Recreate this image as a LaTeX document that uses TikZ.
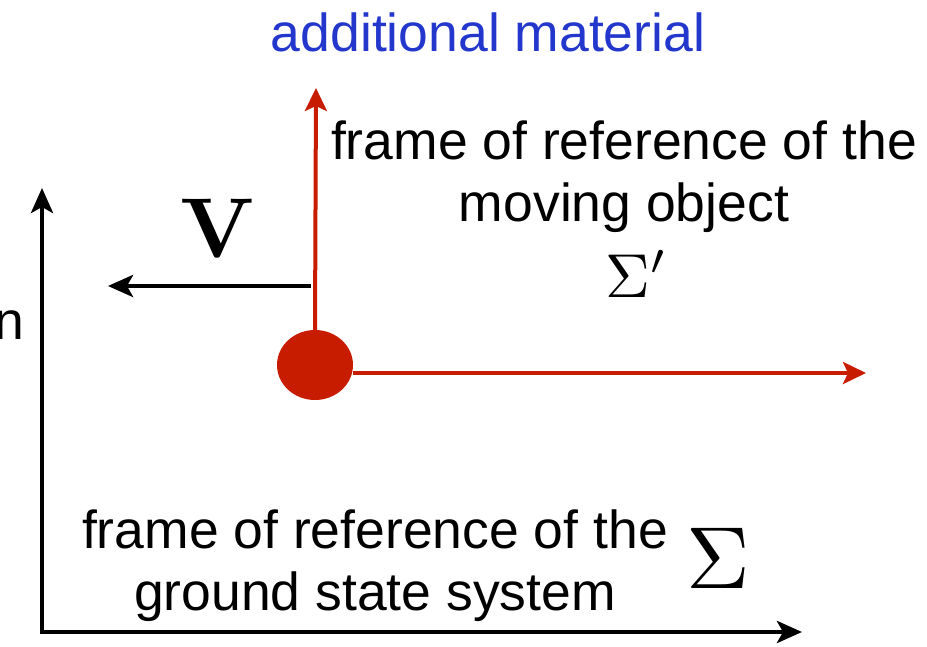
\documentclass[tikz,border=0pt]{standalone}
\usepackage{amsmath}
\usepackage{graphicx}
\usepackage[no-math]{fontspec}
\setmainfont{Liberation Sans}
\usetikzlibrary{arrows.meta,shapes.geometric}
\definecolor{dotred}{RGB}{200,28,0}
\definecolor{noteblue}{RGB}{35,55,205}
\tikzset{
  axis/.style={line width=4.5pt,-{Stealth[length=25pt,width=22pt,inset=6pt]}},
  redaxis/.style={dotred,line width=4pt,-{Stealth[length=23pt,width=22pt,inset=5pt]}},
  label/.style={font=\fontsize{53.5}{62}\selectfont,align=center,inner sep=0pt}
}
\begin{document}
\begin{tikzpicture}[x=1pt,y=1pt]
  \useasboundingbox (0,0) rectangle (927,646);
  % ground frame
  \coordinate (O) at (42,14);
  \coordinate (yA) at (42,458);
  \coordinate (xA) at (802,14);
  \draw[axis,line cap=rect] (O) -- (yA);
  \draw[axis] (O) -- (xA);
  \node[label,anchor=base east] (cut) at (24,306) {n};
  % moving object and its frame
  \node[ellipse,fill=dotred,minimum width=76pt,minimum height=70pt,inner sep=0pt] (dot) at (315,281) {};
  \coordinate (yB) at (316,558);
  \coordinate (xB) at (866,273);
  \draw[redaxis] (dot.north) -- (yB);
  \draw[redaxis] (xB -| dot.east) -- (xB);
  % velocity
  \coordinate (vs) at (311,360);
  \coordinate (ve) at (108,360);
  \draw[axis] (vs) -- (ve);
  \node[inner sep=0pt] (vel) at (218,418) {\scalebox{8.5}{$\mathbf{V}$}};
  % texts
  \node[label,text=noteblue,anchor=base] (note) at (488,594) {additional material};
  \node[label,anchor=base] (mov) at (624,424) {frame of reference of the\\moving object};
  \node[inner sep=0pt] (sigB) at (637,372) {\scalebox{6.2}{$\Sigma'$}};
  \node[inner sep=0pt] (sigA) at (718,88) {\scalebox{8.8}{$\Sigma$}};
  \node[label,anchor=base] (gnd) at (375,36) {frame of reference of the\\ground state system};
\end{tikzpicture}
\end{document}
